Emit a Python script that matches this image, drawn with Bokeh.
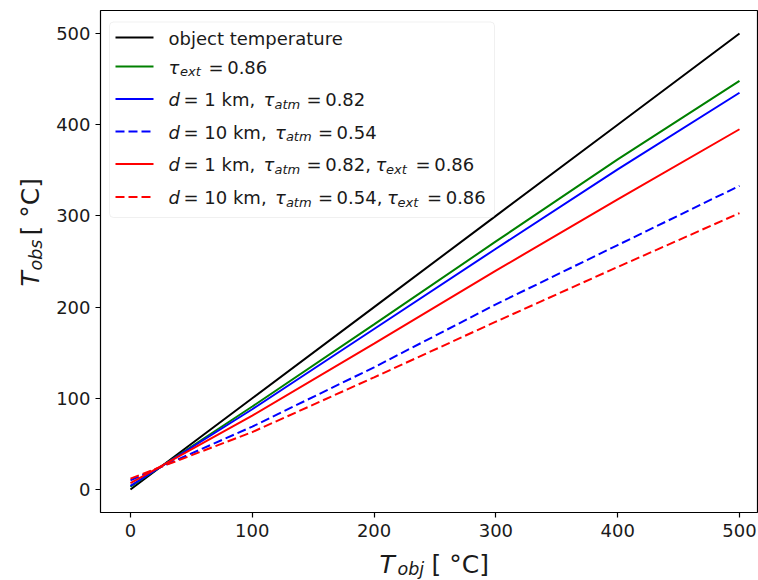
import math
from bokeh.plotting import figure
from bokeh.models import Label, Arrow, BoxAnnotation, FixedTicker, Range1d
from bokeh.layouts import column, row
from bokeh.embed import file_html
from bokeh.resources import INLINE

# ---- data ----
t_obj = [0, 100, 200, 300, 400, 500]
obj_temp = [0, 100, 200, 300, 400, 500]
ext_only = [3, 91, 181, 272, 362, 448]
atm_1km = [4, 88, 176, 264, 351, 435]
atm_10km = [10, 69, 134, 203, 268, 333]
atm_1km_ext = [7, 81, 160, 240, 318, 395]
atm_10km_ext = [12, 63, 123, 184, 244, 303]
ticks = [0, 100, 200, 300, 400, 500]

FONT = "DejaVu Sans"
TXT = "#1a1a1a"
W, H = 758, 580
YLW = 50          # width of the y-label strip
MAIN_H = 545      # height of the main figure
FRAME_L, FRAME_T, FRAME_B = 100, 10, 512
FIX = 5           # baseline correction for labels
TS = "\u2009"     # thin space


def blank(width, height):
    f = figure(width=width, height=height, output_backend="svg", toolbar_location=None,
               x_range=Range1d(0, width), y_range=Range1d(0, height),
               x_axis_type=None, y_axis_type=None, min_border=0)
    f.outline_line_color = None
    f.xgrid.grid_line_color = None
    f.ygrid.grid_line_color = None
    f.background_fill_color = "white"
    f.border_fill_color = "white"
    return f


p = figure(width=W - YLW, height=MAIN_H, output_backend="svg", toolbar_location=None,
           x_range=Range1d(-24.6, 515.6), y_range=Range1d(-25.2, 525.2),
           min_border_left=FRAME_L - YLW, min_border_right=0,
           min_border_top=FRAME_T, min_border_bottom=MAIN_H - FRAME_B)
p.background_fill_color = "white"
p.border_fill_color = "white"
p.outline_line_color = "black"
p.outline_line_width = 1.2
p.xgrid.grid_line_color = None
p.ygrid.grid_line_color = None

for ax in (p.xaxis[0], p.yaxis[0]):
    ax.ticker = FixedTicker(ticks=ticks)
    ax.axis_line_color = None
    ax.major_tick_line_color = "black"
    ax.major_tick_line_width = 1.2
    ax.major_tick_out = 5
    ax.major_tick_in = 0
    ax.minor_tick_line_color = None
    ax.major_label_text_font = FONT
    ax.major_label_text_font_size = "18px"
    ax.major_label_text_color = TXT
p.xaxis.major_label_standoff = 6
p.yaxis.major_label_standoff = 5

series = [
    (obj_temp, "black", "solid"),
    (ext_only, "#008000", "solid"),
    (atm_1km, "#0000ff", "solid"),
    (atm_10km, "#0000ff", "9 4"),
    (atm_1km_ext, "#ff0000", "solid"),
    (atm_10km_ext, "#ff0000", "9 4"),
]
for ys, col, dash in series:
    p.line(t_obj, ys, line_color=col, line_width=2, line_dash=dash)


def lab(fig, ox, ob, text, px, py, size, italic=False, angle=0.0):
    """px, py: page pixels of the text start on its baseline; ox/ob: frame left / bottom in page px."""
    if angle:
        px -= FIX
    else:
        py -= FIX
    fig.add_layout(Label(x=px - ox, y=ob - py, x_units="screen", y_units="screen",
                         text=text, text_font=FONT, text_font_size=f"{size}px",
                         text_font_style="italic" if italic else "normal",
                         text_baseline="alphabetic", text_align="left",
                         angle=angle, text_color=TXT))


# legend box
p.add_layout(BoxAnnotation(left=109 - FRAME_L, right=494 - FRAME_L,
                           top=FRAME_B - 21.5, bottom=FRAME_B - 217,
                           left_units="screen", right_units="screen",
                           top_units="screen", bottom_units="screen",
                           fill_color="white", fill_alpha=0.85,
                           line_color="#cccccc", line_width=1, border_radius=4))

row_y = [37, 66, 98.5, 131, 163.5, 196.5]
for (ys, col, dash), ry in zip(series, row_y):
    p.add_layout(Arrow(end=None, x_start=115 - FRAME_L, y_start=FRAME_B - ry,
                       x_end=153 - FRAME_L, y_end=FRAME_B - ry,
                       start_units="screen", end_units="screen",
                       line_color=col, line_width=2, line_dash=dash))

LS, SS = 18, 13  # legend text size, subscript size
legend_rows = [
    [("object temperature", 168, 0, False)],
    [("τ", 168, 0, True), ("ext", 179.5, 1, True), ("=" + TS + "0.86", 208, 0, False)],
    [("d", 168, 0, True), ("= 1 km,", 183, 0, False), ("τ", 263, 0, True),
     ("atm", 274, 1, True), ("=" + TS + "0.82", 306, 0, False)],
    [("d", 168, 0, True), ("= 10 km,", 183, 0, False), ("τ", 274.4, 0, True),
     ("atm", 285.4, 1, True), ("=" + TS + "0.54", 317.4, 0, False)],
    [("d", 168, 0, True), ("= 1 km,", 183, 0, False), ("τ", 263, 0, True),
     ("atm", 274, 1, True), ("=" + TS + "0.82,", 306, 0, False), ("τ", 375, 0, True),
     ("ext", 385.5, 1, True), ("=" + TS + "0.86", 415, 0, False)],
    [("d", 168, 0, True), ("= 10 km,", 183, 0, False), ("τ", 274.4, 0, True),
     ("atm", 285.4, 1, True), ("=" + TS + "0.54,", 317.4, 0, False), ("τ", 386.5, 0, True),
     ("ext", 397, 1, True), ("=" + TS + "0.86", 426.5, 0, False)],
]
for ry, pieces in zip(row_y, legend_rows):
    for text, px, sub, it in pieces:
        if sub:
            lab(p, FRAME_L, FRAME_B, text, px, ry + 10, SS, it)
        else:
            lab(p, FRAME_L, FRAME_B, text, px, ry + 5.5, LS, it)

AL, AS = 25, 17.5

# y axis label strip: T_obs [°C] (rotated)
ylab = blank(YLW, MAIN_H)
R = math.pi / 2
lab(ylab, 0, MAIN_H, "T", 35, 319, AL, True, R)
lab(ylab, 0, MAIN_H, "obs", 40, 303, AS, True, R)
lab(ylab, 0, MAIN_H, "[ °C]", 35, 268, AL, False, R)

# x axis label strip: T_obj [°C]
xlab = blank(W, H - MAIN_H)
lab(xlab, 0, H, "T", 379, 569, AL, True)
lab(xlab, 0, H, "obj", 397, 573, AS, True)
lab(xlab, 0, H, "[ °C]", 431, 569, AL, False)

layout = column(row(ylab, p), xlab)
open("out.html", "w").write(file_html(layout, INLINE))
